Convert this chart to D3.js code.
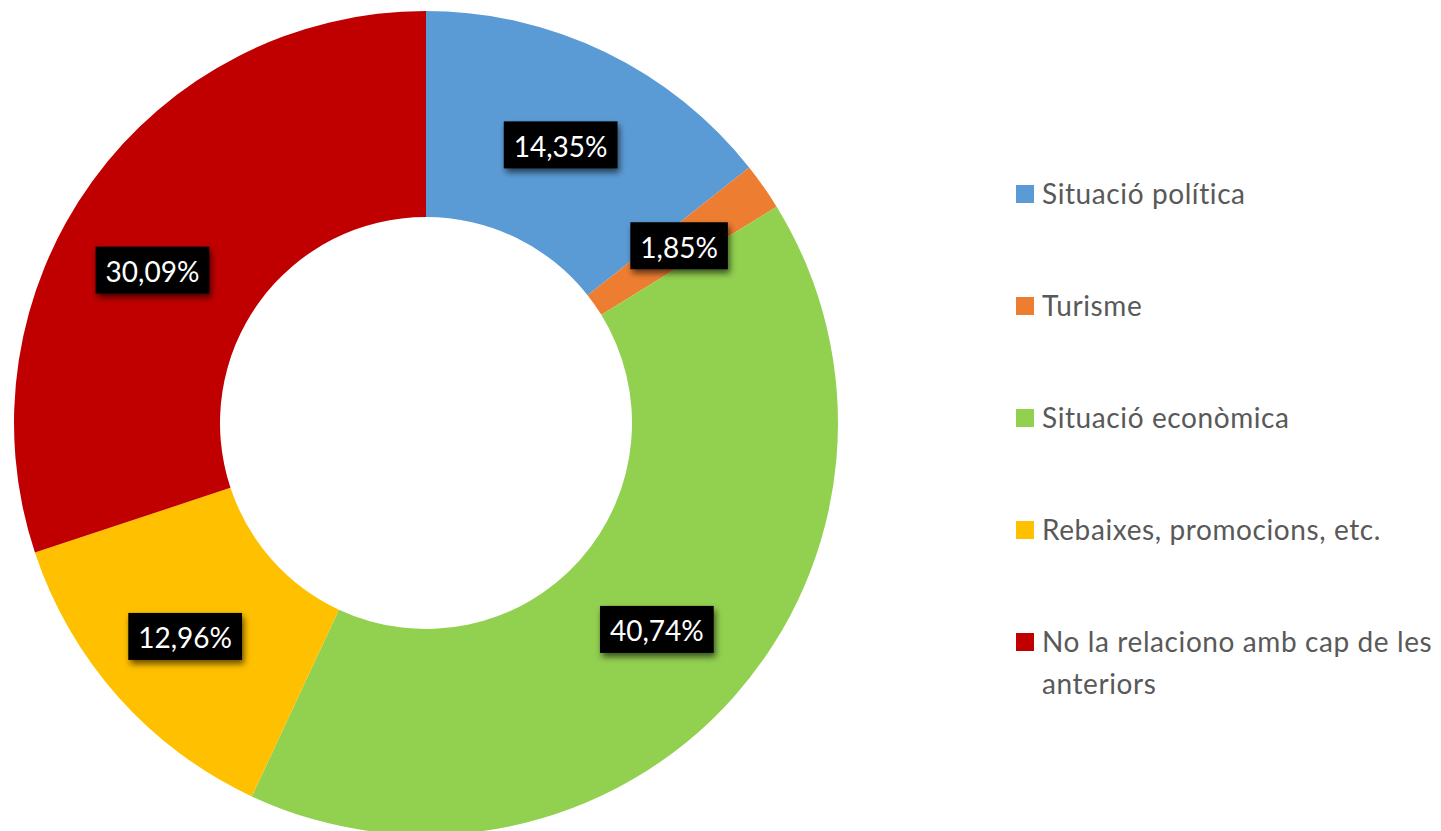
<!DOCTYPE html>
<html>
<head>
<meta charset="utf-8">
<script src="https://cdn.jsdelivr.net/npm/d3@7"></script>
<style>
  html, body { margin: 0; padding: 0; background: #fff; }
  svg { display: block; }
</style>
</head>
<body>
<svg id="chart" width="1441" height="831"></svg>
<script>
const categories = ["Situació política", "Turisme", "Situació econòmica", "Rebaixes, promocions, etc.", "No la relaciono amb cap de les anteriors"];
const legendLines = [["Situació política"], ["Turisme"], ["Situació econòmica"], ["Rebaixes, promocions, etc."], ["No la relaciono amb cap de les", "anteriors"]];
const values = [14.35, 1.85, 40.74, 12.96, 30.09];
const valueLabels = ["14,35%", "1,85%", "40,74%", "12,96%", "30,09%"];
const colors = ["#5B9BD5", "#ED7D31", "#92D050", "#FFC000", "#C00000"];

// layout: manual nudges of data labels (as placed in the original chart)
const labelNudge = [[0, 0], [0, 0], [0, 1], [-10, 8], [-23, 28]];

const svg = d3.select("#chart");
const cx = 426, cy = 423, R = 412, r = 206;
const FONT = "Lato, 'Open Sans', sans-serif";

const defs = svg.append("defs");
const f = defs.append("filter").attr("id", "shadow").attr("x", "-20%").attr("y", "-30%").attr("width", "150%").attr("height", "180%");
f.append("feDropShadow").attr("dx", 2).attr("dy", 4).attr("stdDeviation", 3).attr("flood-color", "#000").attr("flood-opacity", 0.6);

const color = d3.scaleOrdinal().domain(categories).range(colors);
const pie = d3.pie().sort(null).value(d => d.value);
const data = categories.map((c, i) => ({ cat: c, value: values[i], label: valueLabels[i], i }));
const arcs = pie(data);
const arc = d3.arc().innerRadius(r).outerRadius(R);
const labelArc = d3.arc().innerRadius((R + r) / 2).outerRadius((R + r) / 2);

const g = svg.append("g").attr("transform", `translate(${cx},${cy})`);
g.selectAll("path.slice").data(arcs).join("path")
  .attr("class", "slice")
  .attr("d", arc)
  .attr("fill", d => color(d.data.cat));

const lg = g.selectAll("g.lbl").data(arcs).join("g")
  .attr("class", "lbl")
  .attr("transform", d => {
    const c = labelArc.centroid(d);
    const n = labelNudge[d.data.i];
    return `translate(${c[0] + n[0]},${c[1] + n[1]})`;
  });
lg.append("rect").attr("fill", "#000").attr("filter", "url(#shadow)");
const texts = lg.append("text")
  .attr("text-anchor", "middle")
  .attr("dominant-baseline", "central")
  .attr("fill", "#fff")
  .style("font-family", FONT)
  .style("font-size", "28px")
  .text(d => d.data.label);
texts.each(function(d) {
  const w = this.getComputedTextLength();
  const bw = w + 20, bh = 47;
  d3.select(this.parentNode).select("rect")
    .attr("x", -bw / 2).attr("y", -bh / 2).attr("width", bw).attr("height", bh);
  d3.select(this).attr("y", 1);
});

// Legend
const legend = svg.append("g").attr("transform", "translate(1016,0)");
const legendY = d3.scalePoint().domain(categories).range([194, 642]);
const items = legend.selectAll("g.item").data(categories).join("g")
  .attr("class", "item")
  .attr("transform", d => `translate(0,${legendY(d)})`);
items.append("rect").attr("x", 0).attr("y", -9).attr("width", 18).attr("height", 18)
  .attr("fill", d => color(d));
items.append("text")
  .attr("x", 26)
  .attr("y", 0)
  .attr("fill", "#595959")
  .style("font-family", FONT)
  .style("font-size", "28px")
  .style("letter-spacing", "0.6px")
  .each(function(d, i) {
    const t = d3.select(this);
    legendLines[i].forEach((line, j) => {
      t.append("tspan").attr("x", 26).attr("y", j * 42).attr("dy", "0.35em").text(line);
    });
  });
</script>
</body>
</html>
